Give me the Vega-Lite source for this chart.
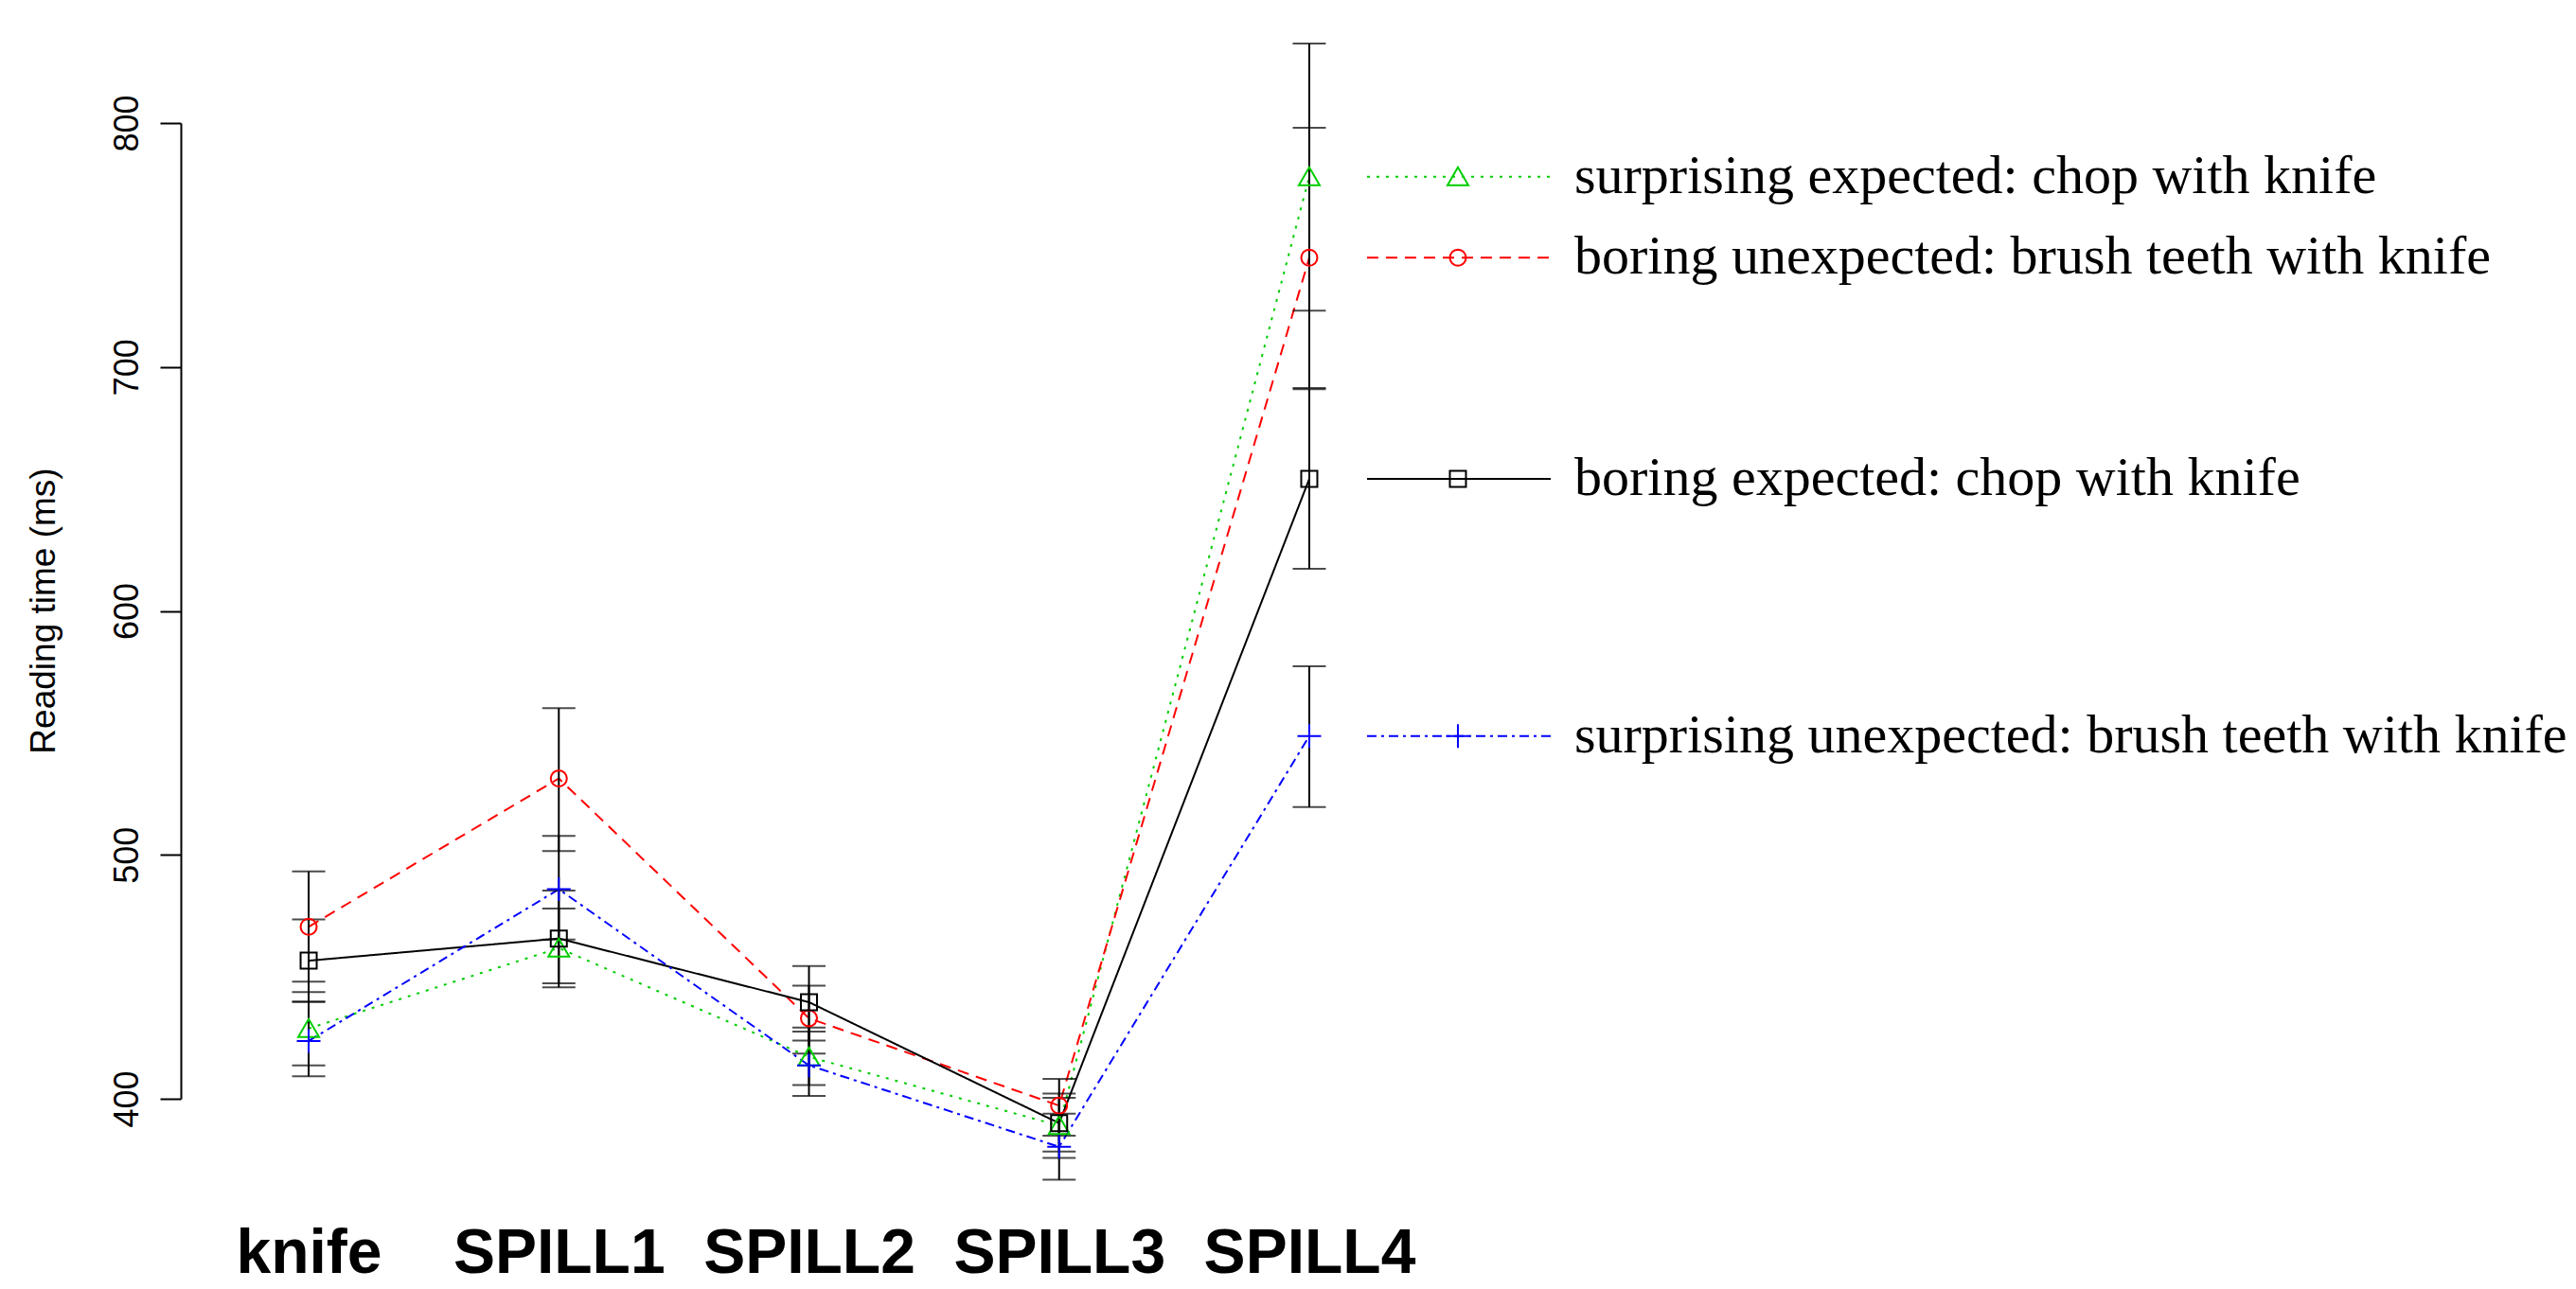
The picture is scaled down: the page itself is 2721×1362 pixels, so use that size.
{
  "$schema": "https://vega.github.io/schema/vega-lite/v6.json",
  "width": 1327,
  "height": 1031,
  "autosize": {"type": "none"},
  "padding": {"left": 191, "top": 130, "right": 1203, "bottom": 201},
  "background": "white",
  "config": {
    "view": {"stroke": null},
    "legend": {"disable": true},
    "axisY": {
      "domainColor": "black", "domainWidth": 2,
      "tickColor": "black", "tickWidth": 2, "tickSize": 22, "tickCount": 5,
      "grid": false,
      "labelAngle": 270, "labelAlign": "center", "labelBaseline": "alphabetic", "labelPadding": 24,
      "labelFont": "Liberation Sans", "labelFontSize": 36, "labelColor": "black",
      "titleFont": "Liberation Sans", "titleFontSize": 37, "titleFontWeight": "normal", "titleColor": "black",
      "titleAngle": 270, "titleAlign": "center", "titleBaseline": "alphabetic", "titleX": -134, "titleY": 515
    },
    "axisX": {
      "domain": false, "ticks": false, "grid": false,
      "labelFont": "Liberation Sans", "labelFontWeight": "bold", "labelFontSize": 66, "labelColor": "black",
      "labelBaseline": "alphabetic", "labelPadding": 183, "labelAngle": 0, "labelOverlap": false, "labelLimit": 0
    }
  },
  "data": {"values": [
    {"pos": "knife", "series": "surprising expected: chop with knife", "mean": 428.8, "lo": 413.7, "hi": 443.7},
    {"pos": "knife", "series": "boring unexpected: brush teeth with knife", "mean": 470.5, "lo": 448.0, "hi": 493.2},
    {"pos": "knife", "series": "boring expected: chop with knife", "mean": 456.6, "lo": 439.8, "hi": 473.5},
    {"pos": "knife", "series": "surprising unexpected: brush teeth with knife", "mean": 423.7, "lo": 409.2, "hi": 439.8},
    {"pos": "SPILL1", "series": "surprising expected: chop with knife", "mean": 461.8, "lo": 445.7, "hi": 478.0},
    {"pos": "SPILL1", "series": "boring unexpected: brush teeth with knife", "mean": 531.3, "lo": 501.6, "hi": 560.1},
    {"pos": "SPILL1", "series": "boring expected: chop with knife", "mean": 465.7, "lo": 447.3, "hi": 485.4},
    {"pos": "SPILL1", "series": "surprising unexpected: brush teeth with knife", "mean": 485.9, "lo": 465.3, "hi": 507.8},
    {"pos": "SPILL2", "series": "surprising expected: chop with knife", "mean": 417.2, "lo": 405.6, "hi": 429.2},
    {"pos": "SPILL2", "series": "boring unexpected: brush teeth with knife", "mean": 433.0, "lo": 418.5, "hi": 446.4},
    {"pos": "SPILL2", "series": "boring expected: chop with knife", "mean": 439.6, "lo": 423.9, "hi": 454.4},
    {"pos": "SPILL2", "series": "surprising unexpected: brush teeth with knife", "mean": 413.7, "lo": 401.2, "hi": 427.5},
    {"pos": "SPILL3", "series": "surprising expected: chop with knife", "mean": 389.0, "lo": 375.8, "hi": 400.4},
    {"pos": "SPILL3", "series": "boring unexpected: brush teeth with knife", "mean": 397.2, "lo": 384.9, "hi": 408.1},
    {"pos": "SPILL3", "series": "boring expected: chop with knife", "mean": 390.0, "lo": 378.4, "hi": 402.1},
    {"pos": "SPILL3", "series": "surprising unexpected: brush teeth with knife", "mean": 380.3, "lo": 366.8, "hi": 393.9},
    {"pos": "SPILL4", "series": "surprising expected: chop with knife", "mean": 778.0, "lo": 723.1, "hi": 832.6},
    {"pos": "SPILL4", "series": "boring unexpected: brush teeth with knife", "mean": 744.8, "lo": 691.4, "hi": 798.1},
    {"pos": "SPILL4", "series": "boring expected: chop with knife", "mean": 654.1, "lo": 617.3, "hi": 690.9},
    {"pos": "SPILL4", "series": "surprising unexpected: brush teeth with knife", "mean": 548.7, "lo": 519.6, "hi": 577.3}
  ]},
  "encoding": {
    "x": {
      "field": "pos", "type": "nominal",
      "sort": ["knife", "SPILL1", "SPILL2", "SPILL3", "SPILL4"],
      "scale": {"type": "point", "padding": 0.511},
      "title": null
    }
  },
  "layer": [
    {
      "mark": {"type": "line", "strokeWidth": 2},
      "encoding": {
        "y": {"field": "mean", "type": "quantitative", "scale": {"domain": [400, 800], "nice": false, "zero": false}, "title": "Reading time (ms)"},
        "color": {"field": "series", "type": "nominal", "scale": {"domain": ["surprising expected: chop with knife", "boring unexpected: brush teeth with knife", "boring expected: chop with knife", "surprising unexpected: brush teeth with knife"], "range": ["#00CD00", "#FF0000", "#000000", "#0000FF"]}},
        "strokeDash": {"field": "series", "type": "nominal", "scale": {"domain": ["surprising expected: chop with knife", "boring unexpected: brush teeth with knife", "boring expected: chop with knife", "surprising unexpected: brush teeth with knife"], "range": [[3, 7], [12, 8], [1, 0], [10, 5, 3, 5]]}}
      }
    },
    {
      "mark": {"type": "rule", "color": "black", "strokeWidth": 2},
      "encoding": {
        "y": {"field": "lo", "type": "quantitative", "scale": {"domain": [400, 800], "nice": false, "zero": false}, "title": "Reading time (ms)"},
        "y2": {"field": "hi"},
        "detail": {"field": "series", "type": "nominal"}
      }
    },
    {
      "mark": {"type": "tick", "color": "black", "size": 35, "thickness": 2, "orient": "horizontal"},
      "encoding": {
        "y": {"field": "lo", "type": "quantitative", "scale": {"domain": [400, 800], "nice": false, "zero": false}, "title": "Reading time (ms)"}
      }
    },
    {
      "mark": {"type": "tick", "color": "black", "size": 35, "thickness": 2, "orient": "horizontal"},
      "encoding": {
        "y": {"field": "hi", "type": "quantitative", "scale": {"domain": [400, 800], "nice": false, "zero": false}, "title": "Reading time (ms)"}
      }
    },
    {
      "mark": {"type": "point", "filled": false, "strokeWidth": 2, "size": 100, "opacity": 1},
      "encoding": {
        "y": {"field": "mean", "type": "quantitative", "scale": {"domain": [400, 800], "nice": false, "zero": false}, "title": "Reading time (ms)"},
        "color": {"field": "series", "type": "nominal"},
        "shape": {"field": "series", "type": "nominal", "scale": {"domain": ["surprising expected: chop with knife", "boring unexpected: brush teeth with knife", "boring expected: chop with knife", "surprising unexpected: brush teeth with knife"], "range": ["M 0 -2 L 2.2 1.8 L -2.2 1.8 Z", "M 1.7 0 L 1.571 0.651 L 1.202 1.202 L 0.651 1.571 L 0 1.7 L -0.651 1.571 L -1.202 1.202 L -1.571 0.651 L -1.7 0 L -1.571 -0.651 L -1.202 -1.202 L -0.651 -1.571 L 0 -1.7 L 0.651 -1.571 L 1.202 -1.202 L 1.571 -0.651 Z", "M -1.7 -1.7 L 1.7 -1.7 L 1.7 1.7 L -1.7 1.7 Z", "M -2.5 0 L 2.5 0 M 0 -2.5 L 0 2.5"]}}
      }
    },
    {
      "transform": [{"filter": "datum.pos == 'SPILL4'"}],
      "mark": {"type": "rule", "strokeWidth": 2, "xOffset": 61, "x2Offset": 255},
      "encoding": {
        "x2": {"field": "pos"},
        "y": {"field": "mean", "type": "quantitative", "scale": {"domain": [400, 800], "nice": false, "zero": false}, "title": "Reading time (ms)"},
        "color": {"field": "series", "type": "nominal"},
        "strokeDash": {"field": "series", "type": "nominal"}
      }
    },
    {
      "transform": [{"filter": "datum.pos == 'SPILL4'"}],
      "mark": {"type": "point", "filled": false, "strokeWidth": 2, "size": 100, "opacity": 1, "xOffset": 157},
      "encoding": {
        "y": {"field": "mean", "type": "quantitative", "scale": {"domain": [400, 800], "nice": false, "zero": false}, "title": "Reading time (ms)"},
        "color": {"field": "series", "type": "nominal"},
        "shape": {"field": "series", "type": "nominal"}
      }
    },
    {
      "transform": [{"filter": "datum.pos == 'SPILL4'"}],
      "mark": {"type": "text", "align": "left", "baseline": "middle", "dx": 280, "font": "Liberation Serif", "fontSize": 58, "color": "black"},
      "encoding": {
        "y": {"field": "mean", "type": "quantitative", "scale": {"domain": [400, 800], "nice": false, "zero": false}, "title": "Reading time (ms)"},
        "text": {"field": "series", "type": "nominal"}
      }
    }
  ]
}
